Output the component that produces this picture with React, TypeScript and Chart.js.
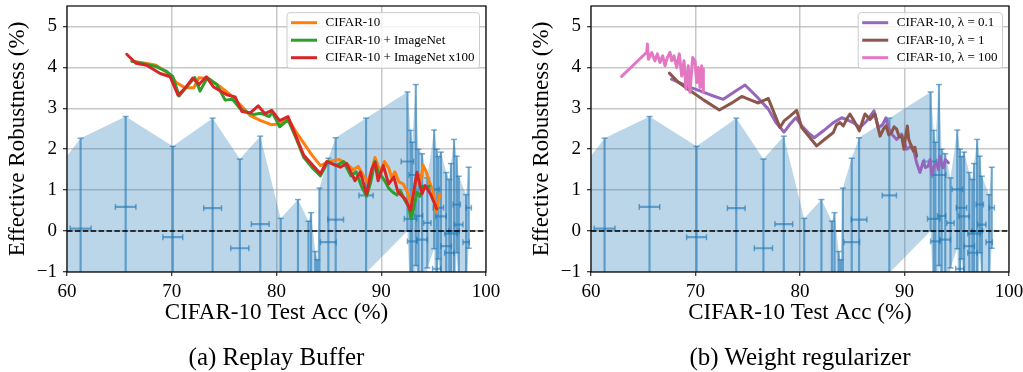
import React, { useEffect, useRef } from 'react';
import { Chart, registerables } from 'chart.js';
Chart.register(...registerables);

const X_MIN = 60, X_MAX = 100, Y_MIN = -1, Y_MAX = 5.5;
const X_TICKS = [60, 70, 80, 90, 100];
const Y_TICKS = [-1, 0, 1, 2, 3, 4, 5];
const BASELINE = 0;
const X_TITLE = 'CIFAR-10 Test Acc (%)';
const Y_TITLE = 'Effective Robustness (%)';

// reference models (error bars + band)
const REF_ACC = [57.5, 61.3, 65.6, 70.1, 73.9, 76.5, 78.45, 80.4, 82.05, 83.05, 83.3, 83.7, 83.9, 84.1, 84.95, 85.65, 88.55, 92.5, 92.8, 92.95, 93.3, 93.55, 93.9, 94.4, 95.05, 95.3, 95.45, 95.7, 96.2, 96.5, 96.65, 96.95, 97.2, 97.4, 98.1, 98.35];
const REF_ACC_ERR = [1.0, 1.0, 0.98, 0.95, 0.85, 0.87, 0.85, 0.8, 0.8, 0.8, 0.8, 0.8, 0.8, 0.8, 0.75, 0.75, 0.68, 0.6, 0.6, 0.45, 0.65, 0.4, 0.5, 0.35, 0.5, 0.4, 0.5, 0.5, 0.5, 0.45, 0.6, 0.5, 0.35, 0.4, 0.3, 0.25];
const REF_ROB = [-0.5, 0.06, 0.59, -0.15, 0.56, -0.42, 0.17, -1.5, -1.4, -1.6, -1.5, -1.8, -2.0, -1.3, -0.27, 0.28, 0.87, 1.7, 0.3, -0.25, 1.37, 0.37, -0.21, 0.2, 1.02, -0.92, 0.57, 0.36, -0.37, -0.53, -0.06, 0.0, 0.65, 0.16, -0.27, 0.57];
const REF_ROB_ERR = [1.5, 2.21, 2.21, 2.22, 2.2, 2.18, 2.15, 1.81, 2.17, 1.84, 1.95, 1.3, 1.3, 2.35, 2.05, 2.0, 1.89, 1.7, 2.16, 2.42, 2.21, 1.63, 2.1, 1.1, 1.45, 2.92, 1.25, 1.57, 1.8, 1.79, 1.71, 2.24, 1.18, 1.18, 1.16, 0.99];

// (a) Replay buffer
const ORANGE_X = [66.2, 67.5, 68.5, 69.5, 70.5, 71.3, 72.1, 72.6, 73.5, 74.5, 75.5, 76.5, 77.5, 78.5, 79.5, 80.3, 81.1, 81.8, 82.6, 83.4, 84.2, 85.0, 86.0, 86.7, 87.3, 87.8, 88.3, 88.7, 89.1, 89.4, 89.7, 90.0, 90.3, 90.7, 91.0, 91.3, 91.7, 92.1, 92.5, 92.8, 93.1, 93.4, 93.7, 94.0, 94.3, 94.6, 94.9, 95.1, 95.25, 95.4, 95.6];
const ORANGE_Y = [4.15, 4.1, 4.05, 3.88, 3.62, 3.5, 3.5, 3.75, 3.72, 3.55, 3.35, 3.1, 2.82, 2.7, 2.6, 2.62, 2.75, 2.45, 2.15, 1.85, 1.6, 1.7, 1.75, 1.65, 1.5, 1.58, 1.35, 1.2, 1.5, 1.8, 1.6, 1.45, 1.7, 1.55, 1.3, 1.45, 1.2, 1.15, 0.95, 0.7, 1.0, 1.3, 1.15, 1.6, 1.45, 1.2, 1.0, 0.75, 0.45, 0.7, 0.9];
const GREEN_X = [66.2, 67.5, 68.5, 69.5, 70.1, 70.7, 71.5, 72.2, 72.7, 73.4, 74.3, 75.1, 75.8, 76.5, 77.2, 77.8, 78.5, 79.3, 79.6, 80.3, 81.1, 81.9, 82.6, 83.4, 84.2, 84.9, 85.7, 86.4, 87.1, 87.6, 88.1, 88.6, 89.0, 89.4, 89.7, 90.0, 90.4, 90.7, 91.1, 91.5, 91.8, 92.2, 92.6, 92.85, 93.1, 93.4, 93.7, 94.0, 94.3, 94.6];
const GREEN_Y = [4.15, 4.08, 4.02, 3.9, 3.78, 3.3, 3.55, 3.75, 3.42, 3.75, 3.58, 3.2, 3.22, 3.0, 2.9, 2.85, 2.88, 2.8, 2.9, 2.55, 2.72, 2.25, 1.8, 1.55, 1.35, 1.7, 1.6, 1.7, 1.35, 1.45, 1.1, 0.85, 1.2, 1.7, 1.45, 1.35, 1.2, 1.05, 0.95, 0.88, 1.0, 0.78, 0.6, 0.3, 0.55, 0.95, 0.85, 1.1, 1.05, 1.1];
const RED_X = [65.7, 66.6, 67.6, 68.9, 69.85, 70.6, 71.3, 72.0, 72.6, 73.3, 74.0, 75.25, 76.05, 76.7, 77.5, 78.25, 78.9, 79.55, 80.3, 81.1, 81.8, 82.6, 84.2, 84.8, 86.1, 86.7, 87.5, 88.0, 88.6, 89.1, 89.4, 89.7, 90.2, 90.7, 91.2, 91.6, 92.3, 92.8, 93.1, 93.4, 93.9, 94.2, 94.7, 95.3];
const RED_Y = [4.32, 4.1, 4.05, 3.85, 3.77, 3.32, 3.5, 3.74, 3.58, 3.77, 3.52, 3.33, 3.28, 2.92, 2.89, 3.06, 2.87, 2.95, 2.7, 2.8, 2.35, 1.85, 1.4, 1.7, 1.56, 1.65, 1.23, 1.44, 0.9, 1.52, 1.68, 1.23, 1.6, 1.15, 1.32, 0.95, 0.78, 0.5, 0.95, 1.44, 0.91, 1.11, 0.91, 0.54];

// (b) Weight regularizer
const PURPLE_X = [67.7, 68.5, 69.5, 70.5, 71.5, 72.66, 73.7, 74.74, 75.8, 76.97, 77.7, 78.47, 79.04, 79.6, 80.16, 80.8, 81.37, 82.24, 83.19, 83.99, 84.5, 85.1, 85.74, 86.38, 87.08, 87.5, 87.9, 88.23, 88.5, 88.77, 89.25, 89.73, 90.21, 90.69, 90.95, 91.16, 91.48, 91.8, 92.0, 92.28, 92.45, 92.6, 92.85, 93.08, 93.25, 93.4, 93.55, 93.72, 93.9, 94.2];
const PURPLE_Y = [3.71, 3.62, 3.51, 3.42, 3.32, 3.22, 3.4, 3.57, 3.3, 2.98, 2.65, 2.42, 2.61, 2.77, 2.57, 2.4, 2.28, 2.45, 2.65, 2.77, 2.72, 2.65, 2.53, 2.69, 2.94, 2.53, 2.6, 2.77, 2.5, 2.37, 2.24, 2.37, 2.0, 2.08, 1.9, 1.67, 1.43, 1.71, 1.55, 1.59, 1.75, 1.38, 1.6, 1.67, 1.5, 1.83, 1.62, 1.55, 1.75, 1.67];
const BROWN_X = [67.5, 68.3, 69.5, 70.8, 72.28, 73.4, 74.42, 75.3, 76.01, 76.97, 77.5, 78.09, 78.5, 79.04, 79.68, 80.16, 80.9, 81.6, 82.4, 83.19, 83.5, 83.83, 84.15, 84.5, 84.78, 85.26, 85.68, 86.0, 86.22, 86.7, 87.18, 87.4, 87.66, 88.0, 88.23, 88.5, 88.77, 89.0, 89.25, 89.5, 89.73, 89.95, 90.1, 90.27, 90.4, 90.53, 90.84, 91.0, 91.16];
const BROWN_Y = [3.86, 3.65, 3.43, 3.2, 2.96, 3.12, 3.29, 3.2, 3.13, 3.24, 2.9, 2.53, 2.7, 2.81, 2.95, 2.53, 2.3, 2.08, 2.25, 2.41, 2.6, 2.65, 2.57, 2.75, 2.86, 2.65, 2.45, 2.7, 2.86, 2.73, 2.86, 2.6, 2.32, 2.5, 2.57, 2.35, 2.41, 2.55, 2.49, 2.3, 2.32, 2.0, 2.3, 2.57, 2.25, 2.16, 1.96, 2.05, 1.83];
const PINK_X = [62.93, 65.33, 65.4, 65.49, 65.81, 66.12, 66.35, 66.6, 66.86, 67.08, 67.3, 67.56, 67.72, 67.94, 68.2, 68.45, 68.68, 68.9, 69.09, 69.31, 69.47, 69.73, 69.95, 70.11, 70.27, 70.43, 70.59, 70.75, 70.75];
const PINK_Y = [3.78, 4.37, 4.57, 4.2, 4.36, 4.16, 4.33, 4.12, 4.28, 4.04, 4.24, 4.37, 4.16, 4.28, 4.0, 4.33, 3.79, 4.16, 3.47, 4.04, 3.39, 4.24, 4.16, 3.63, 4.0, 3.51, 4.04, 3.39, 3.96];

const SERIES_A = [
  { label: 'CIFAR-10', color: '#ff7f0e', xs: ORANGE_X, ys: ORANGE_Y },
  { label: 'CIFAR-10 + ImageNet', color: '#2ca02c', xs: GREEN_X, ys: GREEN_Y },
  { label: 'CIFAR-10 + ImageNet x100', color: '#d62728', xs: RED_X, ys: RED_Y },
];
const SERIES_B = [
  { label: 'CIFAR-10, λ = 0.1', color: '#9467bd', xs: PURPLE_X, ys: PURPLE_Y },
  { label: 'CIFAR-10, λ = 1', color: '#8c564b', xs: BROWN_X, ys: BROWN_Y },
  { label: 'CIFAR-10, λ = 100', color: '#e377c2', xs: PINK_X, ys: PINK_Y },
];

const FONT = '"Liberation Serif", "Times New Roman", serif';
const BAND = 'rgba(31,119,180,0.3)';
const BAR = 'rgba(31,119,180,0.6)';

const frameLegend = {
  id: 'frameLegend',
  afterDatasetsDraw(chart: any, _args: any, opts: any) {
    const { ctx, chartArea: a } = chart;
    ctx.save();
    ctx.strokeStyle = '#000';
    ctx.lineWidth = 1.2;
    ctx.strokeRect(a.left, a.top, a.right - a.left, a.bottom - a.top);
    const items = opts.items || [];
    ctx.font = '13px ' + FONT;
    const tw = Math.max(...items.map((i: any) => ctx.measureText(i.label).width));
    const boxW = 4 + 26 + 8.5 + tw + 5;
    const boxH = 55.6;
    const x0 = a.right - 6.5 - boxW, y0 = a.top + 6.7;
    const r = 3;
    ctx.beginPath();
    ctx.moveTo(x0 + r, y0);
    ctx.arcTo(x0 + boxW, y0, x0 + boxW, y0 + boxH, r);
    ctx.arcTo(x0 + boxW, y0 + boxH, x0, y0 + boxH, r);
    ctx.arcTo(x0, y0 + boxH, x0, y0, r);
    ctx.arcTo(x0, y0, x0 + boxW, y0, r);
    ctx.closePath();
    ctx.fillStyle = 'rgba(255,255,255,0.8)';
    ctx.fill();
    ctx.strokeStyle = '#cccccc';
    ctx.lineWidth = 1;
    ctx.stroke();
    items.forEach((it: any, i: number) => {
      const cy = y0 + 10 + i * 17.5;
      ctx.beginPath();
      ctx.moveTo(x0 + 4, cy);
      ctx.lineTo(x0 + 30, cy);
      ctx.strokeStyle = it.color;
      ctx.lineWidth = 3;
      ctx.stroke();
      ctx.fillStyle = '#000';
      ctx.textBaseline = 'middle';
      ctx.textAlign = 'left';
      ctx.fillText(it.label, x0 + 38.5, cy);
    });
    ctx.restore();
  },
};

function buildConfig(series: any[]) {
  const upper: any[] = [], lower: any[] = [], vBars: any[] = [], hBars: any[] = [], vCaps: any[] = [], hCaps: any[] = [];
  REF_ACC.forEach((x, i) => {
    const y = REF_ROB[i], e = REF_ROB_ERR[i], xe = REF_ACC_ERR[i];
    upper.push({ x, y: y + e });
    lower.push({ x, y: y - e });
    vBars.push({ x, y: y - e }, { x, y: y + e }, { x, y: null });
    hBars.push({ x: x - xe, y }, { x: x + xe, y }, { x, y: null });
    vCaps.push({ x, y: y - e }, { x, y: y + e });
    hCaps.push({ x: x - xe, y }, { x: x + xe, y });
  });
  const n = series.length;
  const datasets: any[] = series.map((s, i) => ({
    data: s.xs.map((x: number, j: number) => ({ x, y: s.ys[j] })),
    borderColor: s.color,
    borderWidth: 3,
    pointRadius: 0,
    fill: false,
    order: n - 1 - i,
    borderJoinStyle: 'round',
    borderCapStyle: 'round',
  }));
  datasets.push(
    { data: [{ x: X_MIN, y: BASELINE }, { x: X_MAX, y: BASELINE }], borderColor: '#000', borderWidth: 1.5, borderDash: [5.5, 2.4], pointRadius: 0, fill: false, order: 10 },
    { data: vCaps, showLine: false, pointStyle: 'line', pointRadius: 3, pointBorderWidth: 1.5, pointBorderColor: BAR, borderColor: BAR, order: 11 },
    { data: hCaps, showLine: false, pointStyle: 'line', pointRotation: 90, pointRadius: 3, pointBorderWidth: 1.5, pointBorderColor: BAR, borderColor: BAR, order: 11 },
    { data: vBars, borderColor: BAR, borderWidth: 2.2, pointRadius: 0, spanGaps: false, fill: false, order: 12 },
    { data: hBars, borderColor: BAR, borderWidth: 2.2, pointRadius: 0, spanGaps: false, fill: false, order: 12 },
    { data: upper, borderWidth: 0, borderColor: 'rgba(0,0,0,0)', backgroundColor: BAND, pointRadius: 0, fill: '+1', order: 13 },
    { data: lower, borderWidth: 0, borderColor: 'rgba(0,0,0,0)', pointRadius: 0, fill: false, order: 13 },
  );
  return {
    type: 'line',
    data: { datasets },
    plugins: [frameLegend],
    options: {
      animation: false,
      responsive: false,
      devicePixelRatio: 1,
      events: [],
      layout: { padding: { left: 0, right: 14, top: 6, bottom: 45 } },
      plugins: {
        legend: { display: false },
        tooltip: { enabled: false },
        frameLegend: { items: series.map((s) => ({ label: s.label, color: s.color })) },
      },
      scales: {
        x: {
          type: 'linear',
          min: X_MIN,
          max: X_MAX,
          afterBuildTicks: (s: any) => { s.ticks = X_TICKS.map((v) => ({ value: v })); },
          afterFit: (s: any) => { s.height = 55; s.paddingLeft = 0; s.paddingRight = 0; },
          ticks: { font: { family: FONT, size: 19 }, color: '#000', padding: 5, maxRotation: 0 },
          grid: { color: 'rgba(176,176,176,0.7)', lineWidth: 1.5, tickLength: 4, tickColor: '#000', tickWidth: 1 },
          border: { display: false },
          title: { display: true, text: X_TITLE, font: { family: FONT, size: 23 }, color: '#000', padding: { top: 0, bottom: 0 } },
        },
        y: {
          type: 'linear',
          min: Y_MIN,
          max: Y_MAX,
          afterBuildTicks: (s: any) => { s.ticks = Y_TICKS.map((v) => ({ value: v })); },
          afterFit: (s: any) => { s.width = 67; s.paddingTop = 0; s.paddingBottom = 0; },
          ticks: {
            font: { family: FONT, size: 19 }, color: '#000', padding: 6,
            callback: (v: number) => (v < 0 ? '\u2212' + Math.abs(v) : String(v)),
          },
          grid: { color: 'rgba(176,176,176,0.7)', lineWidth: 1.5, tickLength: 4, tickColor: '#000', tickWidth: 1 },
          border: { display: false },
          title: { display: true, text: Y_TITLE, font: { family: FONT, size: 23 }, color: '#000', padding: { top: 4, bottom: 0 } },
        },
      },
    },
  };
}

function Panel({ series, caption, left, width }: any) {
  const ref = useRef<HTMLCanvasElement>(null);
  useEffect(() => {
    const chart = new Chart(ref.current as HTMLCanvasElement, buildConfig(series) as any);
    return () => chart.destroy();
  }, []);
  return (
    <>
      <canvas ref={ref} width={width} height={372} style={{ position: 'absolute', left, top: 0, width, height: 372 }} />
      <div style={{ position: 'absolute', left: left + 67, width: width - 14 - 67, top: 342, textAlign: 'center', fontFamily: FONT, fontSize: 25, lineHeight: '30px', color: '#000' }}>
        {caption}
      </div>
    </>
  );
}

export default function App() {
  return (
    <div style={{ position: 'absolute', left: 0, top: 0, width: 1023, height: 372, background: '#fff', overflow: 'hidden' }}>
      <Panel series={SERIES_A} caption="(a) Replay Buffer" left={0} width={500} />
      <Panel series={SERIES_B} caption="(b) Weight regularizer" left={524} width={499} />
    </div>
  );
}
